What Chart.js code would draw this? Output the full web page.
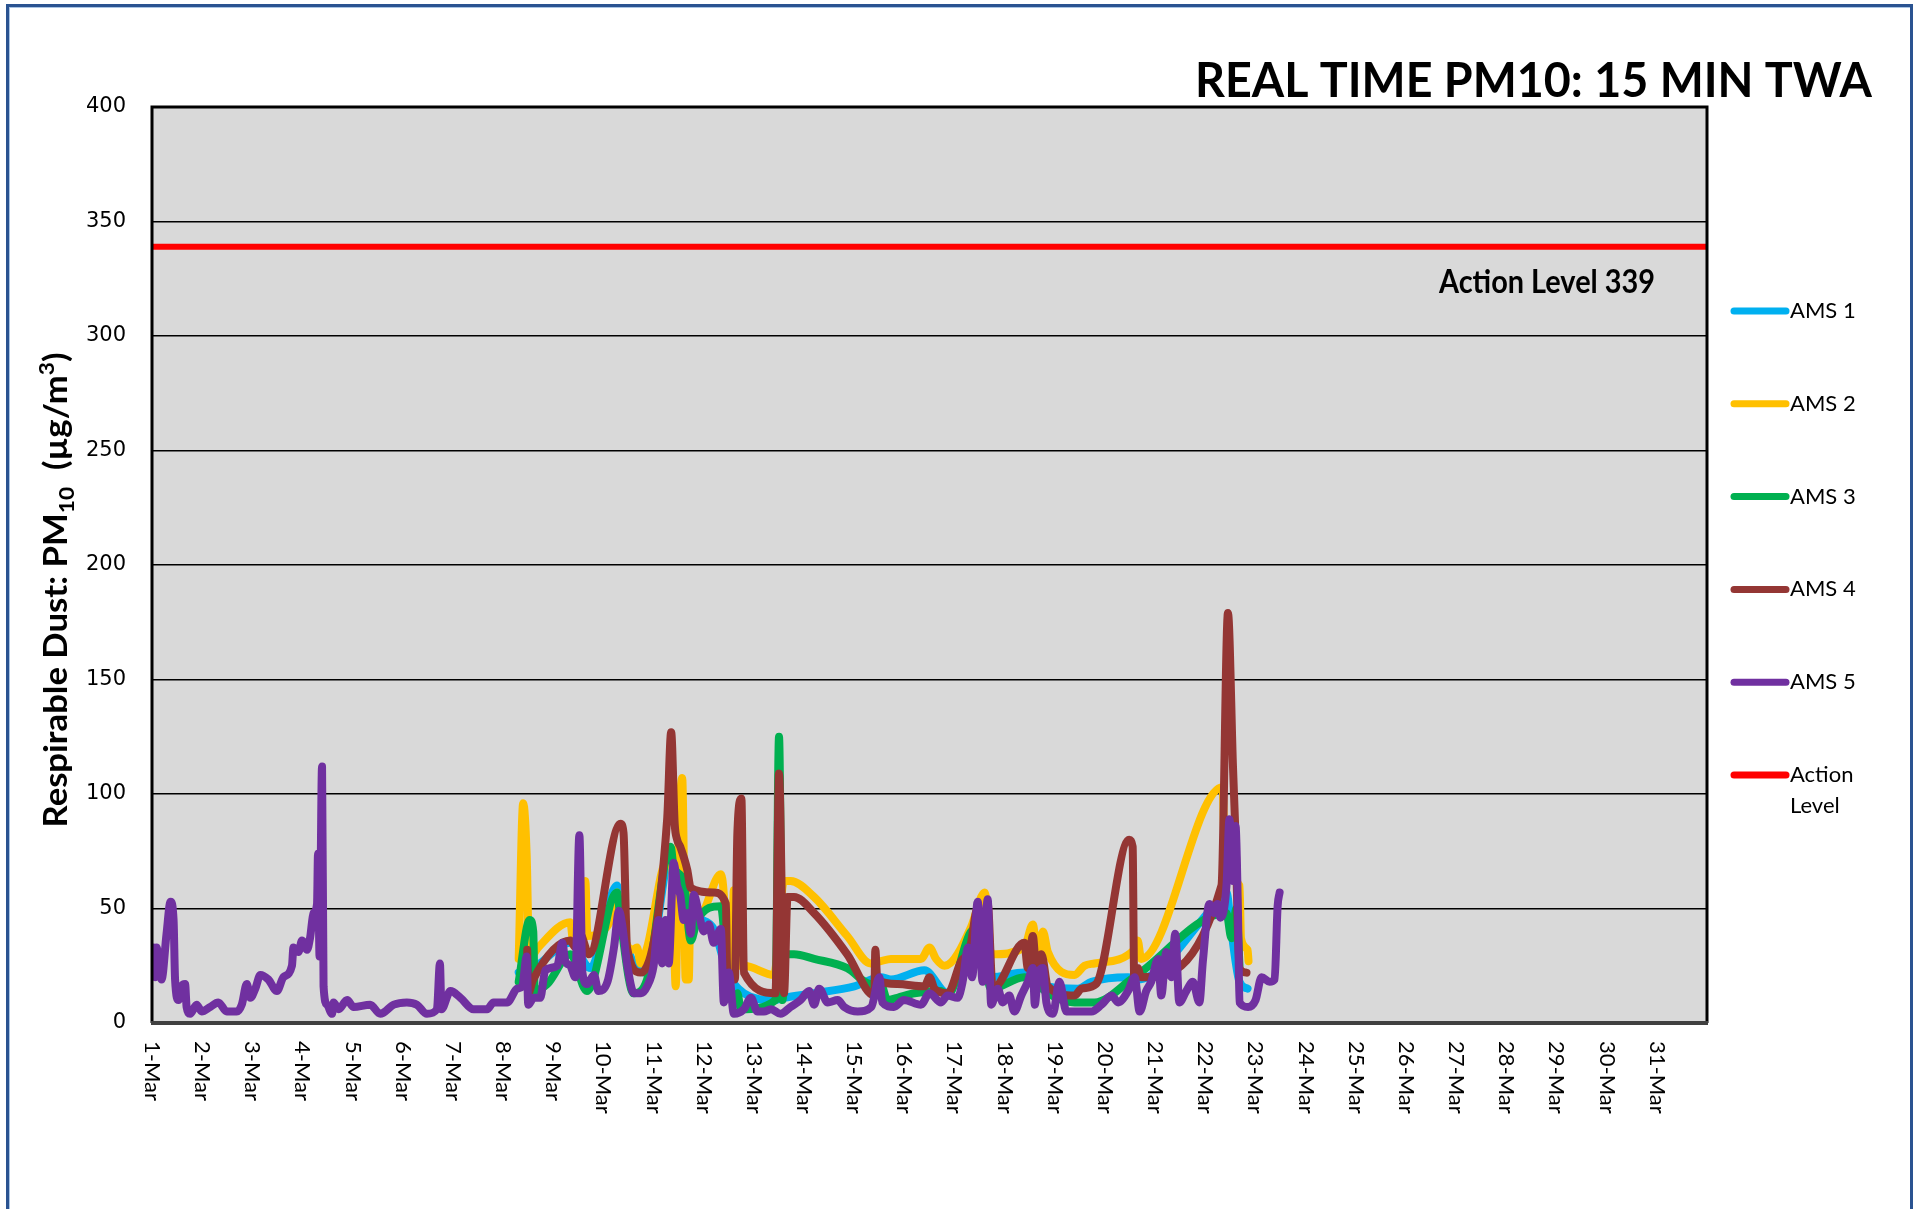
<!DOCTYPE html>
<html>
<head>
<meta charset="utf-8">
<title>Real Time PM10: 15 Min TWA</title>
<script src="https://cdn.jsdelivr.net/npm/chart.js@4.4.1/dist/chart.umd.min.js"></script>
<style>
  html, body { margin: 0; padding: 0; background: #fff; overflow: hidden; }
  .wrap { position: relative; width: 1921px; height: 1209px; }
  .frame { position: absolute; left: 6px; top: 4px; width: 1901px; height: 1260px;
           border: 3px solid #2a5391; border-bottom: none; box-shadow: inset 1px 1px 0 #a9c4e4; }
</style>
</head>
<body>
<div class="wrap">
  <canvas id="myChart"></canvas>
  <div class="frame"></div>
</div>
<script>
// tick labels along the bottom, one per day of March
var dayLabels = ['1-Mar', '2-Mar', '3-Mar', '4-Mar', '5-Mar', '6-Mar', '7-Mar', '8-Mar', '9-Mar', '10-Mar',
                 '11-Mar', '12-Mar', '13-Mar', '14-Mar', '15-Mar', '16-Mar', '17-Mar', '18-Mar', '19-Mar', '20-Mar',
                 '21-Mar', '22-Mar', '23-Mar', '24-Mar', '25-Mar', '26-Mar', '27-Mar', '28-Mar', '29-Mar', '30-Mar', '31-Mar']

var actionLevel = 339

// x = day of month (decimal), y = PM10 ug/m3
var ams1Days = [8.31, 8.6, 9.34, 9.74, 10.27, 10.34, 10.6, 10.87, 11.34, 11.67, 11.8, 12.2, 12.47, 12.8, 13.4, 13.6, 14.2, 15.0,
                15.53, 15.73, 16.4, 16.86, 17.33, 17.53, 17.73, 18.39, 18.59, 18.86, 19.46, 19.73, 20.46, 20.65, 22.17, 22.42,
                22.52, 22.68, 22.84]
var ams1Vals = [22, 24, 35, 24, 60, 47, 26, 22, 73, 56, 48, 41, 22, 13, 10, 11, 13, 16,
                20, 19, 23, 13, 38, 44, 20, 22, 21, 16, 15, 18, 20, 19, 51, 57,
                40, 18, 15]

var ams2Days = [8.31, 8.4, 8.47, 8.52, 8.7, 9.34, 9.4, 9.6, 9.64, 9.68, 10.21, 10.27, 10.34, 10.58, 10.67, 10.74, 10.87,
                11.27, 11.37, 11.44, 11.5, 11.57, 11.64, 11.7, 11.74, 11.93, 12.34, 12.4, 12.47, 12.55, 12.6, 12.65, 12.8,
                13.4, 13.6, 13.73, 14.2, 14.86, 15.33, 15.53, 15.73, 16.33, 16.5, 16.63, 16.8, 17.33, 17.53, 17.6, 17.73,
                18.39, 18.56, 18.66, 18.76, 18.86, 19.39, 19.59, 19.79, 20.58, 20.65, 20.72, 22.34, 22.4, 22.68, 22.71,
                22.84, 22.86]
var ams2Vals = [28, 96, 73, 28, 33, 44, 35, 40, 62, 38, 48, 57, 44, 32, 33, 26, 33,
                71, 68, 16, 80, 107, 19, 19, 59, 48, 65, 56, 23, 25, 58, 25, 25,
                21, 62, 62, 55, 38, 26, 27, 28, 28, 33, 28, 25, 42, 55, 57, 30,
                33, 43, 28, 40, 31, 21, 25, 26, 32, 36, 28, 103, 65, 60, 37,
                32, 27]

var ams3Days = [8.31, 8.53, 8.6, 8.63, 8.88, 9.34, 9.67, 10.27, 10.34, 10.6, 10.87, 11.34, 11.4, 11.6, 11.74, 11.87,
                12.34, 12.47, 12.6, 12.67, 12.74, 13.43, 13.5, 13.57, 13.63, 13.8, 14.2, 14.86, 15.33, 15.53, 15.66,
                15.86, 16.2, 16.73, 16.86, 17.33, 17.46, 17.73, 18.39, 18.59, 18.86, 19.39, 19.79, 20.58, 22.42, 22.52,
                22.62, 22.68]
var ams3Vals = [18, 45, 40, 14, 17, 30, 14, 57, 45, 13, 19, 77, 68, 62, 36, 45,
                51, 22, 10, 13, 6, 10, 125, 10, 30, 30, 28, 24, 17, 17, 10,
                11, 13, 14, 12, 40, 41, 15, 20, 18, 13, 9, 9, 20, 48, 37,
                50, 25]

var ams4Days = [8.48, 8.5, 8.6, 9.34, 9.44, 9.53, 9.71, 10.34, 10.4, 10.47, 10.74, 11.27, 11.35, 11.42, 11.47, 11.53,
                11.67, 11.74, 12.2, 12.44, 12.47, 12.62, 12.67, 12.75, 12.8, 13.43, 13.5, 13.6, 13.67, 13.8, 14.2, 14.86,
                15.4, 15.42, 15.46, 15.86, 16.4, 16.5, 16.6, 16.86, 17.13, 17.3, 17.46, 17.53, 17.66, 17.76, 18.39, 18.46,
                18.56, 18.63, 18.73, 18.86, 19.39, 19.53, 19.82, 20.48, 20.55, 20.58, 20.65, 20.72, 22.32, 22.45, 22.55,
                22.6, 22.68, 22.82]
var ams4Vals = [32, 13, 19, 36, 33, 39, 30, 87, 83, 33, 22, 89, 127, 87, 80, 77,
                67, 59, 57, 52, 19, 19, 83, 98, 22, 13, 109, 13, 55, 55, 48, 30,
                12, 32, 19, 17, 16, 20, 15, 13, 27, 32, 50, 37, 52, 15, 35, 24,
                38, 23, 30, 16, 12, 15, 17, 80, 77, 20, 24, 20, 60, 179, 112,
                82, 24, 22]

var ams5Days = [1.0, 1.03, 1.06, 1.09, 1.19, 1.29, 1.37, 1.43, 1.46, 1.53, 1.59, 1.66, 1.69, 1.76, 1.89, 1.99, 2.16,
                2.32, 2.49, 2.69, 2.79, 2.89, 2.96, 3.06, 3.16, 3.32, 3.49, 3.62, 3.79, 3.82, 3.92, 3.99, 4.09, 4.15,
                4.22, 4.29, 4.31, 4.34, 4.39, 4.42, 4.49, 4.59, 4.62, 4.72, 4.89, 5.02, 5.35, 5.55, 5.82, 6.08, 6.28,
                6.48, 6.68, 6.74, 6.77, 6.95, 7.15, 7.41, 7.68, 7.81, 8.08, 8.28, 8.38, 8.47, 8.5, 8.61, 8.74, 8.84,
                9.08, 9.18, 9.24, 9.34, 9.44, 9.52, 9.58, 9.68, 9.81, 9.9, 10.08, 10.21, 10.31, 10.38, 10.47, 10.61,
                10.75, 10.87, 11.0, 11.1, 11.17, 11.24, 11.3, 11.4, 11.47, 11.53, 11.6, 11.67, 11.74, 11.8, 11.9, 12.0,
                12.1, 12.2, 12.34, 12.4, 12.5, 12.6, 12.8, 12.94, 13.07, 13.2, 13.34, 13.53, 13.73, 13.93, 14.1, 14.2,
                14.3, 14.47, 14.67, 14.8, 15.07, 15.34, 15.5, 15.56, 15.79, 15.99, 16.33, 16.5, 16.73, 16.86, 17.06,
                17.16, 17.27, 17.35, 17.46, 17.56, 17.66, 17.73, 17.86, 17.96, 18.09, 18.19, 18.33, 18.46, 18.56, 18.6,
                18.66, 18.76, 18.83, 18.96, 19.09, 19.23, 19.46, 19.73, 19.93, 20.13, 20.26, 20.46, 20.59, 20.69, 20.82,
                20.92, 21.06, 21.12, 21.22, 21.32, 21.4, 21.48, 21.62, 21.75, 21.88, 21.95, 22.08, 22.17, 22.24, 22.3,
                22.42, 22.48, 22.55, 22.6, 22.65, 22.68, 22.85, 23.0, 23.12, 23.28, 23.38, 23.44, 23.48]
var ams5Vals = [22, 33, 20, 33, 19, 39, 53, 45, 19, 10, 16, 17, 7, 4, 8, 5, 7,
                9, 5, 5, 8, 17, 11, 15, 21, 19, 14, 20, 25, 33, 31, 36, 32, 37,
                48, 52, 74, 29, 112, 16, 8, 4, 9, 6, 10, 7, 8, 4, 8, 9, 8,
                4, 6, 26, 6, 14, 11, 6, 6, 9, 9, 15, 16, 29, 8, 11, 11, 23,
                25, 35, 27, 25, 20, 82, 22, 17, 21, 14, 18, 33, 49, 42, 26, 13,
                13, 16, 25, 45, 26, 45, 26, 70, 60, 56, 45, 48, 39, 56, 48, 40,
                43, 35, 41, 9, 22, 4, 6, 11, 5, 5, 6, 4, 7, 10, 14, 8,
                15, 9, 10, 7, 5, 7, 20, 9, 7, 10, 8, 13, 9, 12, 11,
                18, 33, 20, 53, 18, 54, 8, 15, 9, 12, 5, 12, 18, 24, 8,
                21, 24, 9, 4, 18, 5, 5, 5, 8, 12, 9, 14, 20, 5, 14,
                18, 28, 12, 31, 20, 39, 9, 14, 18, 9, 27, 52, 48, 52, 46,
                60, 89, 62, 86, 48, 9, 7, 10, 20, 18, 19, 51, 57]

function toPoints (days, vals) {
  return days.map(function (d, i) { return {x: d, y: vals[i]} })
}

function series (label, days, vals, color, order) {
  return {
    label: label,
    data: toPoints(days, vals),
    borderColor: color,
    backgroundColor: color,
    borderWidth: 8,
    borderCapStyle: 'round',
    borderJoinStyle: 'round',
    pointRadius: 0,
    cubicInterpolationMode: 'monotone',
    fill: false,
    order: order
  }
}

// draw text squeezed/stretched to a given width (stand-in for Calibri)
function fitText (ctx, text, x, y, width) {
  var w = ctx.measureText(text).width
  ctx.save()
  ctx.translate(x, y)
  ctx.scale(width / w, 1)
  ctx.textAlign = 'left'
  ctx.fillText(text, 0, 0)
  ctx.restore()
}

var decor = {
  id: 'decor',
  beforeDraw (chart) {
    var a = chart.chartArea, ctx = chart.ctx
    ctx.save()
    ctx.fillStyle = '#fff'
    ctx.fillRect(0, 0, chart.width, chart.height)
    ctx.fillStyle = '#d9d9d9'
    ctx.fillRect(a.left, a.top, a.right - a.left, a.bottom - a.top)
    ctx.restore()
  },
  afterDatasetsDraw (chart) {
    var a = chart.chartArea, ctx = chart.ctx
    ctx.save()
    ctx.strokeStyle = '#000'
    ctx.lineWidth = 3
    ctx.beginPath()
    ctx.moveTo(a.left, a.bottom)
    ctx.lineTo(a.left, a.top)
    ctx.lineTo(a.right, a.top)
    ctx.lineTo(a.right, a.bottom)
    ctx.stroke()
    ctx.strokeStyle = '#404040'
    ctx.lineWidth = 4
    ctx.beginPath()
    ctx.moveTo(a.left - 1, a.bottom)
    ctx.lineTo(a.right + 1, a.bottom)
    ctx.stroke()
    ctx.restore()
  },
  afterDraw (chart) {
    var ctx = chart.ctx, a = chart.chartArea
    var xs = chart.scales.x, ys = chart.scales.y
    ctx.save()
    ctx.fillStyle = '#000'
    ctx.textBaseline = 'alphabetic'

    // title
    ctx.font = 'bold 48px Lato'
    fitText(ctx, 'REAL TIME PM10: 15 MIN TWA', 1872 - 677, 97, 677)

    // action level note, just under the red line
    ctx.font = 'bold 32px Lato'
    fitText(ctx, 'Action Level ' + actionLevel, 1439, ys.getPixelForValue(actionLevel) + 46, 216)

    // x tick labels, rotated clockwise
    ctx.font = '22px Lato'
    ctx.textBaseline = 'middle'
    ctx.textAlign = 'left'
    for (var i = 0; i < dayLabels.length; i++) {
      ctx.save()
      ctx.translate(xs.getPixelForValue(i + 1), a.bottom + 18)
      ctx.rotate(Math.PI / 2)
      ctx.fillText(dayLabels[i], 0, 0)
      ctx.restore()
    }

    // y axis title with sub/superscript
    var parts = [
      {t: 'Respirable Dust: PM', f: 'bold 32px Lato', dy: 0},
      {t: '10', f: 'bold 21px Lato', dy: 7},
      {t: '  (\u00b5g/m', f: 'bold 32px Lato', dy: 0},
      {t: '3', f: 'bold 21px Lato', dy: -13},
      {t: ')', f: 'bold 32px Lato', dy: 0}
    ]
    var total = 0
    parts.forEach(function (p) { ctx.font = p.f; p.w = ctx.measureText(p.t).width; total += p.w })
    var k = 475 / total
    ctx.save()
    ctx.translate(67, (a.top + a.bottom) / 2 + 25)
    ctx.rotate(-Math.PI / 2)
    ctx.scale(k, 1)
    ctx.textBaseline = 'alphabetic'
    var px = -total / 2
    parts.forEach(function (p) {
      ctx.font = p.f
      ctx.fillText(p.t, px, p.dy)
      px += p.w
    })
    ctx.restore()

    // legend
    ctx.font = '22px Lato'
    ctx.textBaseline = 'middle'
    var ly = 311
    chart.data.datasets.forEach(function (ds) {
      ctx.strokeStyle = ds.borderColor
      ctx.lineWidth = 7
      ctx.lineCap = 'round'
      ctx.beginPath()
      ctx.moveTo(1734, ly)
      ctx.lineTo(1786, ly)
      ctx.stroke()
      var lines = ctx.measureText(ds.label).width > 90 ? ds.label.split(' ') : [ds.label]
      lines.forEach(function (t, j) { ctx.fillText(t, 1790, ly + j * 31) })
      ly += 92.8
    })
    ctx.restore()
  }
}

var ctx = document.getElementById('myChart').getContext('2d')
var chart = new Chart(ctx, {
  type: 'line',
  data: {
    datasets: [
      series('AMS 1', ams1Days, ams1Vals, '#00b0f0', 5),
      series('AMS 2', ams2Days, ams2Vals, '#ffc000', 4),
      series('AMS 3', ams3Days, ams3Vals, '#00b050', 3),
      series('AMS 4', ams4Days, ams4Vals, '#943634', 2),
      series('AMS 5', ams5Days, ams5Vals, '#7030a0', 1),
      {
        label: 'Action Level',
        data: [{x: 1, y: actionLevel}, {x: 32, y: actionLevel}],
        borderColor: '#ff0000',
        backgroundColor: '#ff0000',
        borderWidth: 6,
        pointRadius: 0,
        fill: false,
        order: 0
      }
    ]
  },
  options: {
    responsive: true,
    maintainAspectRatio: false,
    animation: false,
    layout: {padding: {left: 0, top: 107, right: 214, bottom: 0}},
    scales: {
      x: {
        type: 'linear',
        min: 1,
        max: 32,
        afterFit (s) { s.height = 186 },
        ticks: {display: false},
        grid: {display: false},
        border: {display: false}
      },
      y: {
        min: 0,
        max: 400,
        afterFit (s) { s.width = 152 },
        ticks: {stepSize: 50, padding: 26, color: '#000', font: {family: 'DejaVu Sans', size: 21}},
        grid: {color: '#000', lineWidth: 1.5, drawTicks: false},
        border: {display: false}
      }
    },
    plugins: {
      legend: {display: false},
      tooltip: {enabled: false}
    }
  },
  plugins: [decor]
})
</script>
</body>
</html>
